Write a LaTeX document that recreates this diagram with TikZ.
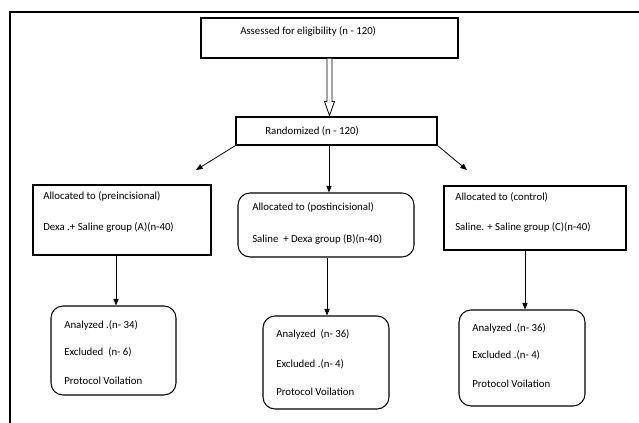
\documentclass[tikz,border=0pt]{standalone}
\usepackage{fontspec}
\setmainfont{Carlito}
\usetikzlibrary{arrows.meta,calc}
\begin{document}
\begin{tikzpicture}[x=0.75pt,y=-0.75pt,
  box/.style={draw,line width=0.8pt,inner sep=0pt},
  rbox/.style={box,rounded corners=9pt},
  txt/.style={font=\fontsize{8.1}{9}\selectfont,anchor=west,inner sep=0pt},
  arr/.style={-{Triangle[length=5pt,width=4pt]},line width=0.6pt}]
\useasboundingbox (0,0) rectangle (639,423);
\draw[line width=1pt] (10,423) -- (10,12) -- (639,12);
% boxes
\node[box,minimum width=192.75pt,minimum height=30pt] (top) at (329.5,38) {};
\node[box,minimum width=150.75pt,minimum height=21pt] (rand) at (336.5,131) {};
\node[box,minimum width=133.5pt,minimum height=52.5pt] (A) at (122,220) {};
\node[rbox,minimum width=132pt,minimum height=48pt] (B) at (326,225) {};
\node[box,minimum width=136.5pt,minimum height=48pt] (C) at (535,218) {};
\node[rbox,minimum width=93.75pt,minimum height=66.75pt] (A2) at (113.5,350.5) {};
\node[rbox,minimum width=94.5pt,minimum height=69.75pt] (B2) at (326,362.5) {};
\node[rbox,minimum width=94.5pt,minimum height=72pt] (C2) at (522,358) {};
% texts
\node[txt] (t1) at (240,31) {Assessed for eligibility (n - 120)};
\node[txt] (t2) at (265,131) {Randomized (n - 120)};
\node[txt] (a1) at (43,196) {Allocated to (preincisional)};
\node[txt] (a2) at (43,227) {Dexa .+ Saline group (A)(n-40)};
\node[txt] (b1) at (252,207) {Allocated to (postincisional)};
\node[txt] (b2) at (252,239) {Saline \ + Dexa group (B)(n-40)};
\node[txt] (c1) at (455,197) {Allocated to (control)};
\node[txt] (c2) at (455,227) {Saline. + Saline group (C)(n-40)};
\node[txt] (a3) at (64,325) {Analyzed .(n- 34)};
\node[txt] (a4) at (64,352) {Excluded \ (n- 6)};
\node[txt] (a5) at (64,381) {Protocol Voilation};
\node[txt] (b3) at (276,334) {Analyzed \ (n- 36)};
\node[txt] (b4) at (276,364) {Excluded .(n- 4)};
\node[txt] (b5) at (276,392) {Protocol Voilation};
\node[txt] (c3) at (472,328) {Analyzed .(n- 36)};
\node[txt] (c4) at (472,355) {Excluded .(n- 4)};
\node[txt] (c5) at (472,384) {Protocol Voilation};
% hollow arrow top -> rand
\coordinate (h0) at ($(top.south)+(-2.5,0)$);
\coordinate (h1) at ($(top.south)+(2.5,0)$);
\coordinate (htip) at ($(top.south)+(0,57)$);
\draw[line width=0.6pt,fill=white] (h0) -- ($(h0)+(0,43)$) -- ($(h0)+(-2.5,43)$) -- (htip) -- ($(h1)+(2.5,43)$) -- ($(h1)+(0,43)$) -- (h1);
% arrows from randomized
\coordinate (la) at (196,170);
\coordinate (ra) at (467,170);
\draw[arr] (rand.south west) -- (la);
\draw[arr] (rand.south east) -- (ra);
\coordinate (m0) at (329,145);
\draw[arr] (m0) -- (m0 |- B.north);
% down arrows
\coordinate (d1) at ($(A.south)+(-6,0)$);
\coordinate (d2) at ($(B.south)+(1,0)$);
\coordinate (d3) at ($(C.south)+(-10,0)$);
\draw[arr] (d1) -- (d1 |- A2.north);
\draw[arr] (d2) -- (d2 |- B2.north);
\draw[arr] (d3) -- (d3 |- C2.north);
\end{tikzpicture}
\end{document}
